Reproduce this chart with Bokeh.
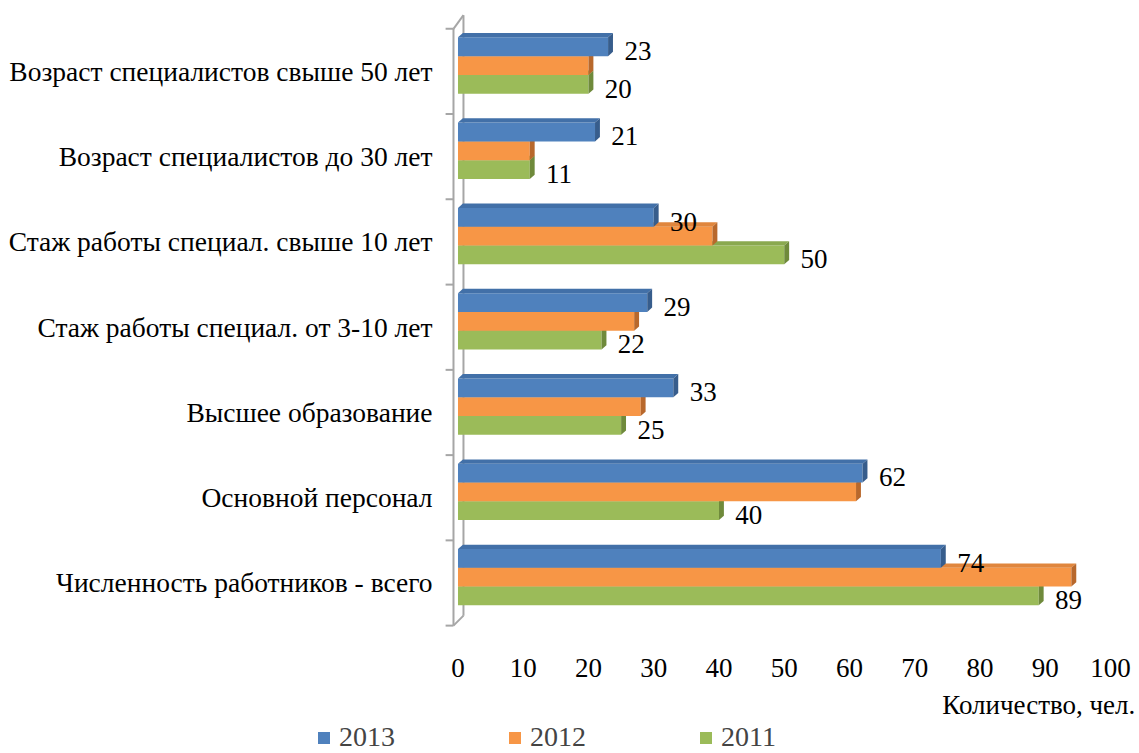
from bokeh.plotting import figure
from bokeh.models import Range1d, FixedTicker, Legend, LegendItem, Label
from bokeh.core.properties import value
from bokeh.embed import file_html
from bokeh.resources import INLINE

# categories listed bottom -> top
categories = ["Численность работников - всего", "Основной персонал", "Высшее образование",
              "Стаж работы специал. от 3-10 лет", "Стаж работы специал. свыше 10 лет",
              "Возраст специалистов до 30 лет", "Возраст специалистов свыше 50 лет"]
years = ["2013", "2012", "2011"]
v2013 = [74, 62, 33, 29, 30, 21, 23]
v2012 = [94, 61, 28, 27, 39, 11, 20]
v2011 = [89, 40, 25, 22, 50, 11, 20]
x_ticks = [0, 10, 20, 30, 40, 50, 60, 70, 80, 90, 100]
labelled = ["2013", "2011"]
x_title = "Количество, чел."

FONT = "'Liberation Serif', 'Times New Roman', serif"
front = {"2013": "#4f81bd", "2012": "#f79646", "2011": "#9bbb59"}
side = {"2013": "#375d8c", "2012": "#b8682c", "2011": "#6f8a3b"}
top = {"2013": "#4270a8", "2012": "#e0863d", "2011": "#8aa94f"}
series = {"2013": v2013, "2012": v2012, "2011": v2011}
offset = {"2013": 0.22, "2012": 0.0, "2011": -0.22}

p = figure(width=1139, height=753, output_backend="svg", toolbar_location=None,
           x_range=Range1d(-70.11, 104.44), y_range=Range1d(-1.50, 7.18),
           y_axis_location=None,
           min_border_left=0, min_border_right=0, min_border_top=13, min_border_bottom=0)
p.outline_line_color = None
p.grid.visible = False
p.background_fill_color = "white"

# 3D wall lines and category tick marks
wall = "#a6a6a6"
fx, bx = -0.69, 0.84
p.line([fx, fx], [0, 7], line_color=wall, line_width=2)
p.line([bx, bx], [0.117, 7.16], line_color=wall, line_width=2)
p.line([fx, bx], [7, 7.16], line_color=wall, line_width=2)
p.line([fx, bx], [0, 0.117], line_color=wall, line_width=2)
bounds = list(range(len(categories) + 1))
p.segment(x0=[-1.9] * len(bounds), y0=bounds, x1=[fx] * len(bounds), y1=bounds,
          line_color=wall, line_width=2)

# category labels
p.text(x=[-3.9] * len(categories), y=[i + 0.5 for i in range(len(categories))], text=categories,
       text_font=value(FONT), text_font_size="27.5px", text_color="black",
       text_align="right", text_baseline="middle")

h = 0.22
d = 0.75
dh = 0.05
renderers = {}
for yr in ["2011", "2012", "2013"]:
    vals = series[yr]
    ys = [i + 0.57 + offset[yr] for i in range(len(categories))]
    r = p.hbar(y=ys, left=0, right=vals, height=h, fill_color=front[yr], line_color=None)
    renderers[yr] = r
    top_xs, top_ys, side_xs, side_ys = [], [], [], []
    for v, yc in zip(vals, ys):
        yb, yt = yc - h / 2, yc + h / 2
        top_xs.append([0, v, v + d, d])
        top_ys.append([yt, yt, yt + dh, yt + dh])
        side_xs.append([v, v + d, v + d, v])
        side_ys.append([yb, yb + dh, yt + dh, yt])
    p.patches(top_xs, top_ys, fill_color=top[yr], line_color=None)
    p.patches(side_xs, side_ys, fill_color=side[yr], line_color=None)
    if yr in labelled:
        p.text(x=[v + 2.5 for v in vals], y=[yc - 0.05 for yc in ys], text=[str(v) for v in vals],
               text_font=value(FONT), text_font_size="27px", text_color="black",
               text_align="left", text_baseline="middle")

# x axis, drawn at y = 0 inside the frame
p.xaxis.fixed_location = 0
p.xaxis.ticker = FixedTicker(ticks=x_ticks)
p.xaxis.axis_line_alpha = 0
p.xaxis.major_tick_in = 0
p.xaxis.major_tick_out = 0
p.xaxis.minor_tick_out = 0
p.xaxis.minor_tick_in = 0
p.xaxis.major_label_standoff = 33
p.xaxis.major_label_text_font = FONT
p.xaxis.major_label_text_font_size = "27px"
p.xaxis.major_label_text_color = "black"

p.add_layout(Label(x=103.8, y=-0.93, text=x_title, text_font=FONT, text_font_size="27px",
                   text_align="right", text_baseline="middle", text_color="black"))

legend = Legend(items=[LegendItem(label=yr, renderers=[renderers[yr]]) for yr in years],
                orientation="horizontal", location=(316, 0), spacing=112,
                glyph_width=15, glyph_height=15, label_standoff=8,
                label_text_font=FONT, label_text_font_size="28px",
                border_line_alpha=0, background_fill_alpha=0, padding=0, margin=0)
p.add_layout(legend, "center")

open("out.html", "w").write(file_html(p, INLINE))
